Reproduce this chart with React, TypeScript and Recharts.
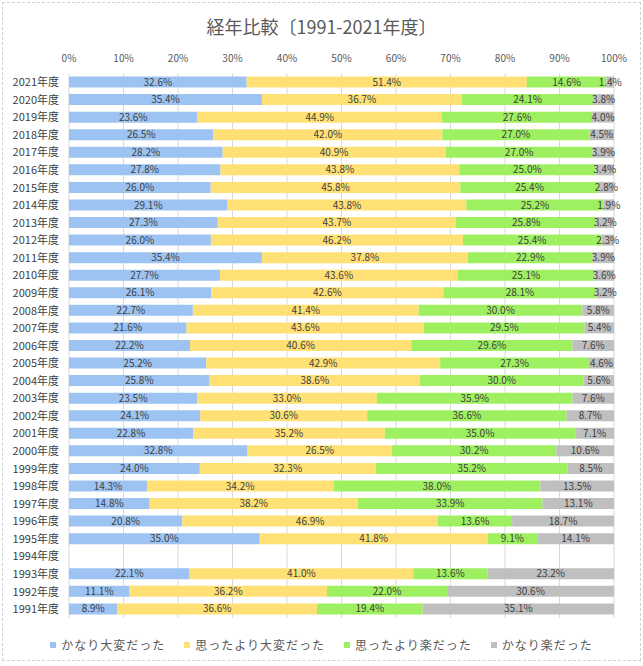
import React from 'react';
import { BarChart, Bar, XAxis, YAxis, CartesianGrid, LabelList } from 'recharts';

const years = ['2021年度','2020年度','2019年度','2018年度','2017年度','2016年度','2015年度','2014年度','2013年度','2012年度','2011年度','2010年度','2009年度','2008年度','2007年度','2006年度','2005年度','2004年度','2003年度','2002年度','2001年度','2000年度','1999年度','1998年度','1997年度','1996年度','1995年度','1994年度','1993年度','1992年度','1991年度'];

const veryHard = [32.6,35.4,23.6,26.5,28.2,27.8,26.0,29.1,27.3,26.0,35.4,27.7,26.1,22.7,21.6,22.2,25.2,25.8,23.5,24.1,22.8,32.8,24.0,14.3,14.8,20.8,35.0,null,22.1,11.1,8.9];
const harderThanExpected = [51.4,36.7,44.9,42.0,40.9,43.8,45.8,43.8,43.7,46.2,37.8,43.6,42.6,41.4,43.6,40.6,42.9,38.6,33.0,30.6,35.2,26.5,32.3,34.2,38.2,46.9,41.8,null,41.0,36.2,36.6];
const easierThanExpected = [14.6,24.1,27.6,27.0,27.0,25.0,25.4,25.2,25.8,25.4,22.9,25.1,28.1,30.0,29.5,29.6,27.3,30.0,35.9,36.6,35.0,30.2,35.2,38.0,33.9,13.6,9.1,null,13.6,22.0,19.4];
const veryEasy = [1.4,3.8,4.0,4.5,3.9,3.4,2.8,1.9,3.2,2.3,3.9,3.6,3.2,5.8,5.4,7.6,4.6,5.6,7.6,8.7,7.1,10.6,8.5,13.5,13.1,18.7,14.1,null,23.2,30.6,35.1];

const seriesNames = ['かなり大変だった','思ったより大変だった','思ったより楽だった','かなり楽だった'];
const xTicks = [0,0.1,0.2,0.3,0.4,0.5,0.6,0.7,0.8,0.9,1];

const colors = ['#9dc3f2','#ffe074','#9ef060','#bfbfbf'];
const keys = ['a','b','c','d'];

const data = years.map((y, i) => ({
  year: y,
  a: veryHard[i],
  b: harderThanExpected[i],
  c: easierThanExpected[i],
  d: veryEasy[i],
}));

const FONT = '"Noto Sans CJK JP", "Noto Sans", sans-serif';

const fmt = (v: any) => (v == null ? '' : `${Number(v).toFixed(1)}%`);

export default function App() {
  return (
    <div style={{ position: 'absolute', left: 0, top: 0, width: 643, height: 666, background: '#fff', fontFamily: FONT }}>
      <div style={{ position: 'absolute', left: 2, top: 2, width: 637, height: 657, border: '1px dashed #d0d0d0' }} />
      <div style={{ position: 'absolute', left: 0, top: 13, width: 643, textAlign: 'center', fontSize: 18, color: '#595959', lineHeight: '26px' }}>
        経年比較〔1991-2021年度〕
      </div>
      <div style={{ position: 'absolute', left: 0, top: 0 }}>
        <BarChart
          width={643}
          height={666}
          data={data}
          layout="vertical"
          stackOffset="expand"
          margin={{ top: 0, right: 29, bottom: 48, left: 0 }}
          barSize={11}
        >
          <CartesianGrid horizontal={false} vertical={true} stroke="#d9d9d9" />
          <XAxis
            type="number"
            orientation="top"
            domain={[0, 1]}
            ticks={xTicks}
            tickFormatter={(v: number) => `${Math.round(v * 100)}%`}
            height={73.5}
            axisLine={false}
            tickLine={false}
            tickSize={0}
            tickMargin={12}
            tick={{ fontSize: 10, fill: '#595959', fontFamily: FONT }}
            interval={0}
          />
          <YAxis
            type="category"
            dataKey="year"
            width={69}
            axisLine={false}
            tickLine={false}
            tickSize={0}
            tickMargin={10}
            interval={0}
            tick={{ fontSize: 11, fill: '#404040', fontFamily: FONT }}
          />
          {keys.map((k, i) => (
            <Bar key={k} dataKey={k} name={seriesNames[i]} stackId="s" fill={colors[i]} isAnimationActive={false}>
              <LabelList dataKey={k} position="center" formatter={fmt} style={{ fontSize: 10, fill: '#404040', fontFamily: FONT }} />
            </Bar>
          ))}
        </BarChart>
      </div>
      <div style={{ position: 'absolute', left: 0, top: 636, width: 643, display: 'flex', justifyContent: 'center', gap: 19, fontSize: 12, color: '#595959', letterSpacing: 1, lineHeight: '18px' }}>
        {seriesNames.map((n, i) => (
          <div key={n} style={{ display: 'flex', alignItems: 'center' }}>
            <span style={{ display: 'inline-block', width: 6, height: 6, background: colors[i], marginRight: 5 }} />
            <span>{n}</span>
          </div>
        ))}
      </div>
    </div>
  );
}
